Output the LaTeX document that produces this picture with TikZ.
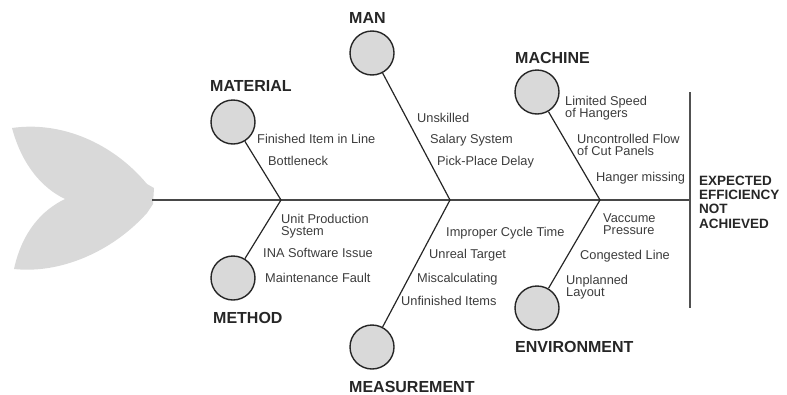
\documentclass[tikz,border=0pt]{standalone}
\usepackage{fontspec}
\setmainfont{Liberation Sans}
\definecolor{ink}{HTML}{262626}
\definecolor{fishgray}{HTML}{D9D9D9}

\begin{document}
\begin{tikzpicture}[x=1pt,y=-1pt,
    head/.style={circle,draw=ink,line width=1.4pt,fill=fishgray,minimum size=44pt,inner sep=0pt},
    cat/.style={font=\fontsize{16}{16}\selectfont\bfseries,text=ink,anchor=base west,inner sep=0pt},
    why/.style={font=\fontsize{12.8}{12}\selectfont,text=ink!90,anchor=base west,inner sep=0pt,align=left},
    bone/.style={draw=ink,line width=1.2pt},
    spine/.style={draw=ink!85,line width=1.5pt}]
    \useasboundingbox (0,0) rectangle (787,394);

    \fill[fishgray] (147,184) .. controls (112,142) and (60,121) .. (12,128)
      .. controls (22,165) and (42,188) .. (65,199)
      .. controls (42,210) and (22,232) .. (14,269)
      .. controls (60,274) and (112,252) .. (147,213)
      -- (153,204) -- (154,188) -- cycle;

    \path
    (152,200) coordinate (tail)
    (690,200) coordinate (mouth)
    (690,92) coordinate (bartop)
    (690,308) coordinate (barbot)
    (281,200) coordinate (j1)
    (450,200) coordinate (j2)
    (600,200) coordinate (j3)
    ;
    \draw[spine] (tail) -- (mouth);
    \draw[draw=ink!80,line width=2pt] (bartop) -- (barbot);

    \path
    (233,122) node[head] (mat) {}
    (233,278) node[head] (met) {}
    (372,53) node[head] (man) {}
    (372,347) node[head] (mea) {}
    (537,92) node[head] (mac) {}
    (537,308) node[head] (env) {}
    ;
    \draw[bone] (mat) -- (j1) -- (met);
    \draw[bone] (man) -- (j2) -- (mea);
    \draw[bone] (mac) -- (j3) -- (env);

    \path
    (210,91) node[cat] (matlabel) {MATERIAL}
    (213,323) node[cat] (metlabel) {METHOD}
    (349,23) node[cat] (manlabel) {MAN}
    (349,392) node[cat] (mealabel) {MEASUREMENT}
    (515,63) node[cat] (maclabel) {MACHINE}
    (515,352) node[cat] (envlabel) {ENVIRONMENT}
    ;

    \path
    (257,143) node[why] (m1) {Finished Item in Line}
    (268,165) node[why] (m2) {Bottleneck}
    (281,235) node[why] (t1) {Unit Production\\System}
    (263,257) node[why] (t2) {INA Software Issue}
    (265,282) node[why] (t3) {Maintenance Fault}
    (417,122) node[why] (p1) {Unskilled}
    (430,143) node[why] (p2) {Salary System}
    (437,165) node[why] (p3) {Pick-Place Delay}
    (446,236) node[why] (s1) {Improper Cycle Time}
    (429,258) node[why] (s2) {Unreal Target}
    (417,282) node[why] (s3) {Miscalculating}
    (401,305) node[why] (s4) {Unfinished Items}
    (565,117) node[why] (c1) {Limited Speed\\of Hangers}
    (577,155) node[why] (c2) {Uncontrolled Flow\\of Cut Panels}
    (596,181) node[why] (c3) {Hanger missing}
    (603,234) node[why] (e1) {Vaccume\\Pressure}
    (580,259) node[why] (e2) {Congested Line}
    (566,296) node[why] (e3) {Unplanned\\Layout}
    ;

    \node[font=\fontsize{13.5}{14.3}\selectfont\bfseries,text=ink,anchor=base west,inner sep=0pt,align=left]
      (effect) at (699,228) {EXPECTED\\EFFICIENCY\\NOT\\ACHIEVED};
\end{tikzpicture}
\end{document}
